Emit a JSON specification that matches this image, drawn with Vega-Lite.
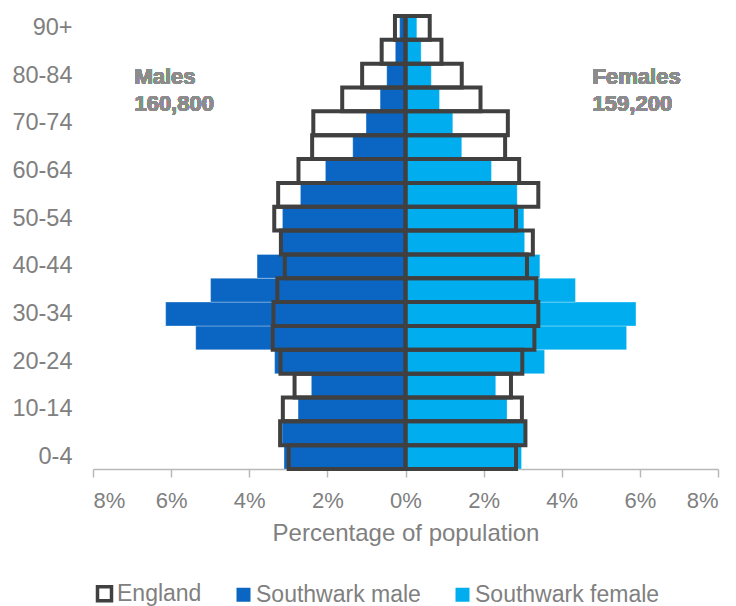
{
  "$schema": "https://vega.github.io/schema/vega-lite/v6.json",
  "width": 625,
  "height": 453,
  "autosize": {"type": "none"},
  "padding": {"left": 93, "top": 16, "right": 18, "bottom": 137},
  "background": "#ffffff",
  "config": {
    "view": {"stroke": null},
    "font": "Liberation Sans"
  },
  "data": {
    "values": [
      {"age": "0-4", "source": "Southwark", "series": "Southwark male", "pct": -3.11},
      {"age": "5-9", "source": "Southwark", "series": "Southwark male", "pct": -3.16},
      {"age": "10-14", "source": "Southwark", "series": "Southwark male", "pct": -2.75},
      {"age": "15-19", "source": "Southwark", "series": "Southwark male", "pct": -2.41},
      {"age": "20-24", "source": "Southwark", "series": "Southwark male", "pct": -3.35},
      {"age": "25-29", "source": "Southwark", "series": "Southwark male", "pct": -5.37},
      {"age": "30-34", "source": "Southwark", "series": "Southwark male", "pct": -6.14},
      {"age": "35-39", "source": "Southwark", "series": "Southwark male", "pct": -4.99},
      {"age": "40-44", "source": "Southwark", "series": "Southwark male", "pct": -3.80},
      {"age": "45-49", "source": "Southwark", "series": "Southwark male", "pct": -3.17},
      {"age": "50-54", "source": "Southwark", "series": "Southwark male", "pct": -3.15},
      {"age": "55-59", "source": "Southwark", "series": "Southwark male", "pct": -2.69},
      {"age": "60-64", "source": "Southwark", "series": "Southwark male", "pct": -2.05},
      {"age": "65-69", "source": "Southwark", "series": "Southwark male", "pct": -1.35},
      {"age": "70-74", "source": "Southwark", "series": "Southwark male", "pct": -1.01},
      {"age": "75-79", "source": "Southwark", "series": "Southwark male", "pct": -0.65},
      {"age": "80-84", "source": "Southwark", "series": "Southwark male", "pct": -0.48},
      {"age": "85-89", "source": "Southwark", "series": "Southwark male", "pct": -0.26},
      {"age": "90+", "source": "Southwark", "series": "Southwark male", "pct": -0.15},
      {"age": "0-4", "source": "Southwark", "series": "Southwark female", "pct": 2.97},
      {"age": "5-9", "source": "Southwark", "series": "Southwark female", "pct": 3.05},
      {"age": "10-14", "source": "Southwark", "series": "Southwark female", "pct": 2.60},
      {"age": "15-19", "source": "Southwark", "series": "Southwark female", "pct": 2.31},
      {"age": "20-24", "source": "Southwark", "series": "Southwark female", "pct": 3.56},
      {"age": "25-29", "source": "Southwark", "series": "Southwark female", "pct": 5.66},
      {"age": "30-34", "source": "Southwark", "series": "Southwark female", "pct": 5.90},
      {"age": "35-39", "source": "Southwark", "series": "Southwark female", "pct": 4.35},
      {"age": "40-44", "source": "Southwark", "series": "Southwark female", "pct": 3.44},
      {"age": "45-49", "source": "Southwark", "series": "Southwark female", "pct": 3.05},
      {"age": "50-54", "source": "Southwark", "series": "Southwark female", "pct": 3.03},
      {"age": "55-59", "source": "Southwark", "series": "Southwark female", "pct": 2.86},
      {"age": "60-64", "source": "Southwark", "series": "Southwark female", "pct": 2.20},
      {"age": "65-69", "source": "Southwark", "series": "Southwark female", "pct": 1.44},
      {"age": "70-74", "source": "Southwark", "series": "Southwark female", "pct": 1.21},
      {"age": "75-79", "source": "Southwark", "series": "Southwark female", "pct": 0.87},
      {"age": "80-84", "source": "Southwark", "series": "Southwark female", "pct": 0.66},
      {"age": "85-89", "source": "Southwark", "series": "Southwark female", "pct": 0.40},
      {"age": "90+", "source": "Southwark", "series": "Southwark female", "pct": 0.29},
      {"age": "0-4", "source": "England", "series": "England male", "pct": -2.99},
      {"age": "5-9", "source": "England", "series": "England male", "pct": -3.21},
      {"age": "10-14", "source": "England", "series": "England male", "pct": -3.14},
      {"age": "15-19", "source": "England", "series": "England male", "pct": -2.84},
      {"age": "20-24", "source": "England", "series": "England male", "pct": -3.20},
      {"age": "25-29", "source": "England", "series": "England male", "pct": -3.40},
      {"age": "30-34", "source": "England", "series": "England male", "pct": -3.38},
      {"age": "35-39", "source": "England", "series": "England male", "pct": -3.28},
      {"age": "40-44", "source": "England", "series": "England male", "pct": -3.09},
      {"age": "45-49", "source": "England", "series": "England male", "pct": -3.19},
      {"age": "50-54", "source": "England", "series": "England male", "pct": -3.36},
      {"age": "55-59", "source": "England", "series": "England male", "pct": -3.26},
      {"age": "60-64", "source": "England", "series": "England male", "pct": -2.74},
      {"age": "65-69", "source": "England", "series": "England male", "pct": -2.39},
      {"age": "70-74", "source": "England", "series": "England male", "pct": -2.36},
      {"age": "75-79", "source": "England", "series": "England male", "pct": -1.62},
      {"age": "80-84", "source": "England", "series": "England male", "pct": -1.11},
      {"age": "85-89", "source": "England", "series": "England male", "pct": -0.61},
      {"age": "90+", "source": "England", "series": "England male", "pct": -0.27},
      {"age": "0-4", "source": "England", "series": "England female", "pct": 2.83},
      {"age": "5-9", "source": "England", "series": "England female", "pct": 3.07},
      {"age": "10-14", "source": "England", "series": "England female", "pct": 2.98},
      {"age": "15-19", "source": "England", "series": "England female", "pct": 2.70},
      {"age": "20-24", "source": "England", "series": "England female", "pct": 2.99},
      {"age": "25-29", "source": "England", "series": "England female", "pct": 3.30},
      {"age": "30-34", "source": "England", "series": "England female", "pct": 3.40},
      {"age": "35-39", "source": "England", "series": "England female", "pct": 3.35},
      {"age": "40-44", "source": "England", "series": "England female", "pct": 3.11},
      {"age": "45-49", "source": "England", "series": "England female", "pct": 3.26},
      {"age": "50-54", "source": "England", "series": "England female", "pct": 2.83},
      {"age": "55-59", "source": "England", "series": "England female", "pct": 3.40},
      {"age": "60-64", "source": "England", "series": "England female", "pct": 2.91},
      {"age": "65-69", "source": "England", "series": "England female", "pct": 2.55},
      {"age": "70-74", "source": "England", "series": "England female", "pct": 2.62},
      {"age": "75-79", "source": "England", "series": "England female", "pct": 1.92},
      {"age": "80-84", "source": "England", "series": "England female", "pct": 1.44},
      {"age": "85-89", "source": "England", "series": "England female", "pct": 0.92},
      {"age": "90+", "source": "England", "series": "England female", "pct": 0.62}
    ]
  },
  "encoding": {
    "y": {
      "field": "age",
      "type": "nominal",
      "sort": ["90+", "85-89", "80-84", "75-79", "70-74", "65-69", "60-64", "55-59", "50-54", "45-49", "40-44", "35-39", "30-34", "25-29", "20-24", "15-19", "10-14", "5-9", "0-4"],
      "scale": {"paddingInner": 0, "paddingOuter": 0},
      "axis": {
        "title": null,
        "values": ["0-4", "10-14", "20-24", "30-34", "40-44", "50-54", "60-64", "70-74", "80-84", "90+"],
        "domain": false,
        "ticks": false,
        "tickSize": 0,
        "labelPadding": 21,
        "labelFontSize": 23.5,
        "labelColor": "#808080",
        "labelFont": "Liberation Sans"
      }
    }
  },
  "layer": [
    {
      "transform": [{"filter": "datum.source === 'Southwark'"}],
      "mark": {"type": "bar", "stroke": "#ffffff", "strokeWidth": 0.5, "strokeOpacity": 0.6},
      "encoding": {
        "x": {
          "field": "pct",
          "type": "quantitative",
          "scale": {"domain": [-8, 8], "nice": false, "zero": false},
          "axis": {
            "values": [-8, -6, -4, -2, 0, 2, 4, 6, 8],
            "labelExpr": "abs(datum.value) + '%'",
            "grid": false,
            "domainColor": "#b8b8b8",
            "domainWidth": 1.5,
            "tickColor": "#b8b8b8",
            "tickWidth": 1.5,
            "tickSize": 8,
            "labelPadding": 13,
            "labelFontSize": 22,
            "labelColor": "#808080",
            "labelFont": "Liberation Sans",
            "title": "Percentage of population",
            "titleFontSize": 24,
            "titleFontWeight": "normal",
            "titleColor": "#808080",
            "titleFont": "Liberation Sans",
            "titlePadding": 10
          }
        },
        "color": {
          "field": "series",
          "type": "nominal",
          "scale": {
            "domain": ["England", "Southwark male", "Southwark female"],
            "range": ["#ffffff", "#0A66C2", "#00AEEF"]
          },
          "legend": {
            "title": null,
            "orient": "none",
            "legendX": 0,
            "legendY": 566,
            "direction": "horizontal",
            "symbolType": "square",
            "symbolSize": 196,
            "symbolStrokeColor": "#404040",
            "symbolStrokeWidth": 3.5,
            "labelFontSize": 23,
            "labelColor": "#808080",
            "labelFont": "Liberation Sans",
            "labelLimit": 0,
            "labelOffset": 1,
            "columnPadding": 30,
            "padding": 0,
            "encode": {
              "symbols": {
                "update": {
                  "stroke": {"signal": "(datum.index === 0 || datum.label === 'England' || datum.value === 'England') ? '#404040' : 'transparent'"},
                  "strokeWidth": {"signal": "(datum.index === 0 || datum.label === 'England' || datum.value === 'England') ? 3.5 : 0"}
                }
              }
            }
          }
        }
      }
    },
    {
      "transform": [{"filter": "datum.source === 'England'"}],
      "mark": {"type": "bar", "fill": "#ffffff", "fillOpacity": 0, "stroke": "#404040", "strokeWidth": 4},
      "encoding": {
        "x": {"field": "pct", "type": "quantitative"}
      }
    },
    {
      "mark": {"type": "rule", "color": "#8a8a8a", "strokeWidth": 1.5},
      "encoding": {"x": {"datum": 0}}
    },
    {
      "mark": {"type": "text", "align": "left", "baseline": "alphabetic", "dy": 8, "lineHeight": 27, "fontSize": 22, "fontWeight": "bold", "fill": "#8c8c8c", "stroke": "transparent", "strokeWidth": 0, "strokeOpacity": 0, "font": "Arial"},
      "encoding": {
        "x": {"datum": -6.94},
        "y": {"datum": "80-84"},
        "text": {"value": ["Males", "160,800"]}
      }
    },
    {
      "mark": {"type": "text", "align": "left", "baseline": "alphabetic", "dy": 8, "lineHeight": 27, "fontSize": 22, "fontWeight": "bold", "fill": "#8c8c8c", "stroke": "transparent", "strokeWidth": 0, "strokeOpacity": 0, "font": "Arial"},
      "encoding": {
        "x": {"datum": 4.79},
        "y": {"datum": "80-84"},
        "text": {"value": ["Females", "159,200"]}
      }
    }
  ]
}
